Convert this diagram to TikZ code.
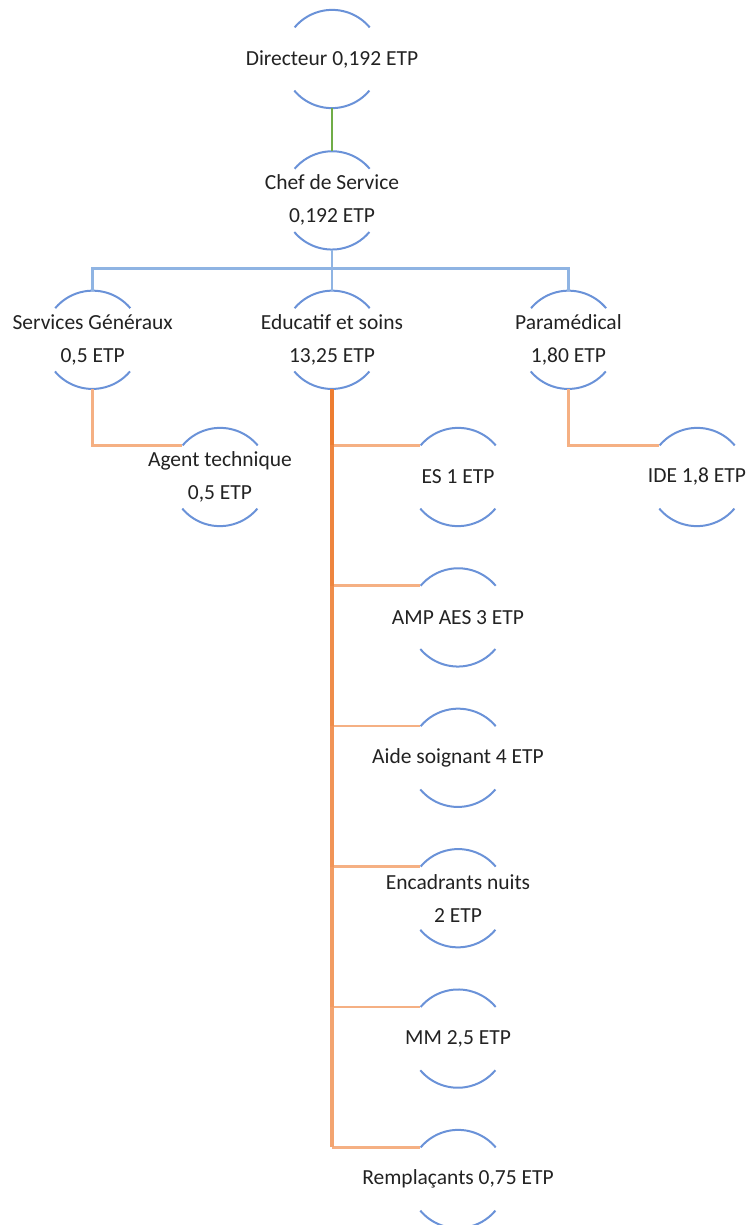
\documentclass[tikz,border=0pt]{standalone}
\usepackage{fontspec}
\setmainfont{Carlito}
\usepackage{tikz}
\usetikzlibrary{positioning}

\definecolor{arcblue}{HTML}{6A92D8}
\definecolor{tieblue}{HTML}{8FB4E3}
\definecolor{stemgreen}{HTML}{70AD47}
\definecolor{trunktop}{HTML}{ED7D31}
\definecolor{trunkbot}{HTML}{F3A470}
\definecolor{twigorange}{HTML}{F5B083}
\definecolor{txtgray}{HTML}{222222}

\begin{document}
\begin{tikzpicture}[
    x=1pt, y=1pt,
    unit/.style={circle, minimum size=98pt, inner sep=0pt},
    every label/.style={align=center, inner sep=0pt, text=txtgray,
        font=\fontsize{21.5}{33}\selectfont},
    arcline/.style={draw=arcblue, line width=2pt},
    stem/.style={draw=stemgreen, line width=2pt},
    tie/.style={draw=tieblue, line width=2.6pt},
    twig/.style={draw=twigorange, line width=2.6pt},
    trunk/.style={line width=3.4pt}
]
\useasboundingbox (0,0) rectangle (748,-1225);

\node[unit, label={center:Directeur 0,192 ETP}] (dir) at (332,-59) {};
\node[unit, below=43pt of dir, label={center:Chef de Service\\0,192 ETP}] (chef) {};
\node[unit, below=41pt of chef, label={center:Educatif et soins\\13,25 ETP}] (edu) {};
\node[unit, left=141pt of edu, label={center:Services Généraux\\0,5 ETP}] (sg) {};
\node[unit, right=138pt of edu, label={center:Paramédical\\1,80 ETP}] (para) {};
\node[unit, label={center:Agent technique\\0,5 ETP}] (agent) at (220,-477) {};
\node[unit, label={center:IDE 1,8 ETP}] (ide) at (697,-477) {};
\node[unit, label={center:ES 1 ETP}] (es) at (458,-477) {};
\node[unit, below=42pt of es, label={center:AMP AES 3 ETP}] (amp) {};
\node[unit, below=42pt of amp, label={center:Aide soignant 4 ETP}] (aide) {};
\node[unit, below=42pt of aide, label={center:Encadrants nuits\\2 ETP}] (enc) {};
\node[unit, below=42pt of enc, label={center:MM 2,5 ETP}] (mm) {};
\node[unit, below=42pt of mm, label={center:Remplaçants 0,75 ETP}] (rempl) {};

% open circles
\foreach \n in {dir,chef,sg,edu,para,agent,ide,es,amp,aide,enc,mm,rempl}
  \draw[arcline] (\n.40) arc[start angle=40, end angle=140, radius=49pt]
                 (\n.220) arc[start angle=220, end angle=320, radius=49pt];

% links
\draw[stem] (dir) -- (chef);
\draw[tie] (chef.south) -- ++(0,-19) -| (sg.north);
\draw[tie] (chef.south) -- ++(0,-19) -| (para.north);
\draw[tie] (chef.south) -- (edu.north);
\draw[twig] (sg.south) |- (agent.140);
\draw[twig] (para.south) |- (ide.140);

% trunk, lighter going down
\foreach \b in {es,amp,aide,enc,mm,rempl}
  \draw[twig] (edu.south |- \b.140) -- (\b.140);
\foreach \b/\p in {rempl/0, mm/20, enc/40, aide/60, amp/80, es/100}
  \draw[trunk, draw=trunktop!\p!trunkbot] (edu.south) -- (edu.south |- \b.140);
\end{tikzpicture}
\end{document}
